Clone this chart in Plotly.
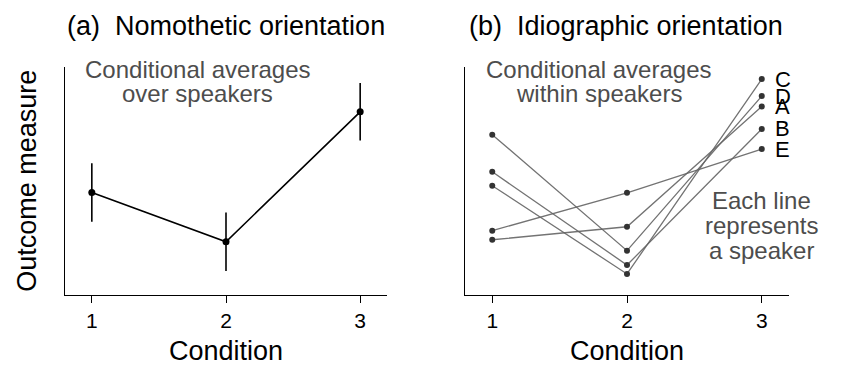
import plotly.graph_objects as go

# ---- data ----
conditions = [1, 2, 3]
tick_labels = ["1", "2", "3"]

# panel (a): conditional averages over speakers, with error bars
avg_means = [4.48, 2.32, 8.02]
avg_errors = [1.28, 1.28, 1.26]

# panel (b): per-speaker conditional averages
speakers = ["A", "B", "C", "D", "E"]
speaker_A = [2.41, 2.98, 8.25]
speaker_B = [5.39, 1.30, 7.27]
speaker_C = [4.78, 0.91, 9.46]
speaker_D = [7.02, 1.93, 8.71]
speaker_E = [2.81, 4.47, 6.39]
speaker_values = [speaker_A, speaker_B, speaker_C, speaker_D, speaker_E]

titles = ["(a)  Nomothetic orientation", "(b)  Idiographic orientation"]
note_a = ["Conditional averages", "over speakers"]
note_b = ["Conditional averages", "within speakers"]
note_lines = ["Each line", "represents", "a speaker"]

# ---- layout constants ----
W, H = 844, 384
FONT = "Liberation Sans, Arial, sans-serif"
Y_RANGE = [0, 10]
X_RANGE = [0.8, 3.2]

def px_x(p):
    return p / W

def px_y(p):
    return 1 - p / H

fig = go.Figure()

# panel (a)
fig.add_trace(go.Scatter(
    x=conditions, y=avg_means, mode="lines+markers",
    line=dict(color="black", width=1.6),
    marker=dict(color="black", size=7),
    error_y=dict(type="data", array=avg_errors, visible=True,
                 color="black", thickness=1.6, width=0),
    xaxis="x", yaxis="y", showlegend=False, hoverinfo="skip",
))

# panel (b)
for name, vals in zip(speakers, speaker_values):
    fig.add_trace(go.Scatter(
        x=conditions, y=vals, mode="lines+markers", name=name,
        line=dict(color="rgba(100,100,100,0.9)", width=1.3),
        marker=dict(color="#333333", size=6),
        xaxis="x2", yaxis="y2", showlegend=False, hoverinfo="skip",
    ))

axis_common = dict(
    showline=True, linecolor="black", linewidth=1.3,
    showgrid=False, zeroline=False, mirror=False, automargin=False,
)
xaxis_common = dict(
    axis_common, range=X_RANGE, tickmode="array", tickvals=conditions,
    ticktext=tick_labels, ticks="outside", ticklen=7, tickwidth=1.3,
    tickcolor="black", tickfont=dict(family=FONT, size=21, color="black"),
    ticklabelstandoff=0,
    title=dict(text="Condition", font=dict(family=FONT, size=27, color="black"),
               standoff=10),
)
yaxis_common = dict(
    axis_common, range=Y_RANGE, showticklabels=False, ticks="",
)

y_dom = [px_y(294.7), px_y(66.7)]
fig.update_layout(
    width=W, height=H,
    margin=dict(l=0, r=0, t=0, b=0),
    paper_bgcolor="white", plot_bgcolor="white",
    xaxis=dict(xaxis_common, domain=[px_x(65), px_x(387)], anchor="y"),
    yaxis=dict(yaxis_common, domain=y_dom, anchor="x",
               title=dict(text="Outcome measure",
                          font=dict(family=FONT, size=27, color="black"),
                          standoff=19)),
    xaxis2=dict(xaxis_common, domain=[px_x(465.3), px_x(788.7)], anchor="y2"),
    yaxis2=dict(yaxis_common, domain=y_dom, anchor="x2"),
)

annotations = []
# titles
for t, left in zip(titles, [65, 467]):
    annotations.append(dict(
        text=t, xref="paper", yref="paper", x=px_x(left), y=px_y(26),
        xanchor="left", yanchor="middle", showarrow=False,
        font=dict(family=FONT, size=27, color="black"),
    ))

grey = "#4d4d4d"
# notes at top of panels
for note, xr in [(note_a, "x"), (note_b, "x2")]:
    for i, line in enumerate(note):
        annotations.append(dict(
            text=line, xref=xr, yref="paper", x=1.79, y=px_y(69 + 25 * i),
            xanchor="center", yanchor="middle", showarrow=False,
            font=dict(family=FONT, size=24, color=grey),
        ))
for i, line in enumerate(note_lines):
    annotations.append(dict(
        text=line, xref="x2", yref="paper", x=3.0, y=px_y(200 + 25 * i),
        xanchor="center", yanchor="middle", showarrow=False,
        font=dict(family=FONT, size=24, color=grey),
    ))

# speaker labels at condition 3
for name, vals in zip(speakers, speaker_values):
    annotations.append(dict(
        text=name, xref="x2", yref="y2", x=conditions[-1], y=vals[-1],
        xanchor="left", yanchor="middle", xshift=11, showarrow=False,
        font=dict(family=FONT, size=22, color="black"),
    ))

fig.update_layout(annotations=annotations)
fig.write_html(
    "out.html",
    config={"displayModeBar": False},
    post_script="document.body.style.margin='0';document.body.style.padding='0';",
)
